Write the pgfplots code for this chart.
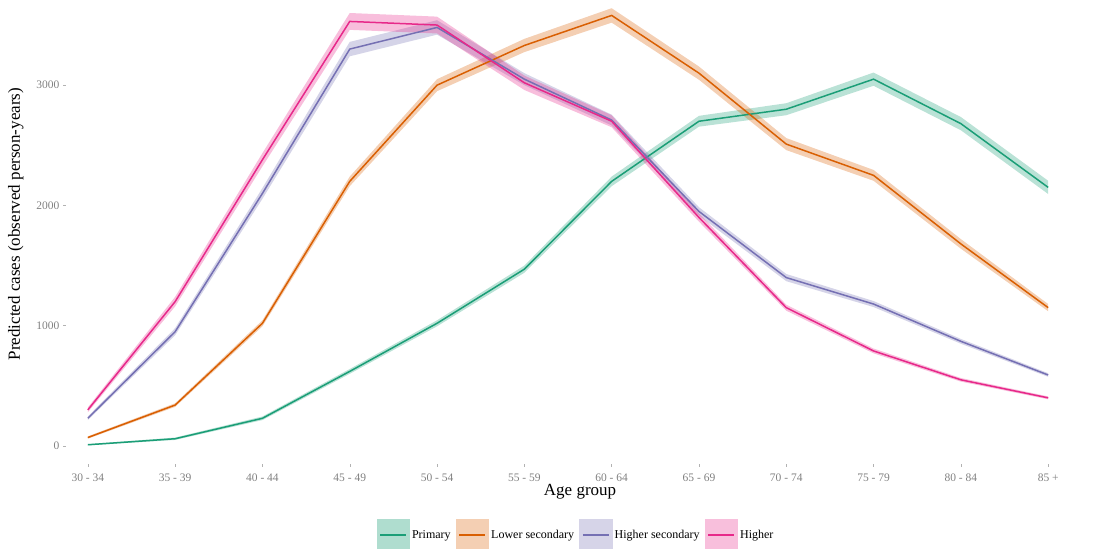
\documentclass[border=0pt]{standalone}
\usepackage{fontspec}
\setmainfont{Liberation Serif}
\usepackage{pgfplots}
\pgfplotsset{compat=1.18}
\usepackage{pgfplotstable}
\usepgfplotslibrary{fillbetween}
\definecolor{cP}{HTML}{1B9E77}
\definecolor{cL}{HTML}{D95F02}
\definecolor{cS}{HTML}{7570B3}
\definecolor{cH}{HTML}{E7298A}
\pgfplotstableread{
x y e
0 10 5
1 60 10
2 230 15
3 620 20
4 1020 25
5 1470 30
6 2200 40
7 2700 45
8 2800 50
9 3050 55
10 2680 55
11 2150 55
}\prim
\pgfplotstableread{
x y e
0 70 10
1 340 15
2 1020 25
3 2200 40
4 3000 50
5 3330 55
6 3580 60
7 3100 55
8 2510 50
9 2250 45
10 1680 40
11 1150 30
}\lows
\pgfplotstableread{
x y e
0 230 15
1 950 30
2 2100 45
3 3300 60
4 3480 60
5 3050 50
6 2710 45
7 1950 35
8 1400 30
9 1180 25
10 870 20
11 590 15
}\highs
\pgfplotstableread{
x y e
0 300 20
1 1200 40
2 2380 55
3 3530 70
4 3500 70
5 3020 60
6 2700 50
7 1900 35
8 1150 25
9 790 20
10 550 15
11 400 12
}\high
\begin{document}
\begin{tikzpicture}
\begin{axis}[
  at={(66pt,85pt)}, anchor=south west,
  scale only axis, width=1004pt, height=457pt,
  xmin=-0.25, xmax=11.25, ymin=-150, ymax=3650,
  axis lines*=left, axis line style={draw=none},
  tick align=outside, major tick length=3pt,
  tick style={gray!60, thin},
  xtick={0,...,11},
  xticklabels={30 - 34,35 - 39,40 - 44,45 - 49,50 - 54,55 - 59,60 - 64,65 - 69,70 - 74,75 - 79,80 - 84,85 +},
  ytick={0,1000,2000,3000},
  /pgf/number format/1000 sep={},
  /pgf/number format/assume math mode=true,
  ticklabel style={font=\fontsize{11.5}{12}\selectfont, text=gray},
  xticklabel style={yshift=-3pt},
  xlabel={Age group},
  xlabel style={font=\fontsize{17}{19}\selectfont, at={(axis description cs:0.512,-0.061)}, anchor=center},
  ylabel={Predicted cases (observed person-years)},
  ylabel style={font=\fontsize{17}{19}\selectfont, at={(axis description cs:-0.05,0.525)}, anchor=center},
  legend columns=4,
  legend style={draw=none, font=\fontsize{12}{14}\selectfont, at={(axis description cs:0.508,-0.155)}, anchor=center,
    /tikz/every even column/.append style={column sep=3pt}},
]
% bands
\addplot[name path=pu, draw=none, forget plot] table[x=x, y expr=\thisrow{y}+\thisrow{e}]{\prim};
\addplot[name path=pl, draw=none, forget plot] table[x=x, y expr=\thisrow{y}-\thisrow{e}]{\prim};
\addplot[fill=cP, fill opacity=0.3, draw=none, forget plot] fill between[of=pu and pl];
\addplot[name path=lu, draw=none, forget plot] table[x=x, y expr=\thisrow{y}+\thisrow{e}]{\lows};
\addplot[name path=ll, draw=none, forget plot] table[x=x, y expr=\thisrow{y}-\thisrow{e}]{\lows};
\addplot[fill=cL, fill opacity=0.3, draw=none, forget plot] fill between[of=lu and ll];
\addplot[name path=su, draw=none, forget plot] table[x=x, y expr=\thisrow{y}+\thisrow{e}]{\highs};
\addplot[name path=sl, draw=none, forget plot] table[x=x, y expr=\thisrow{y}-\thisrow{e}]{\highs};
\addplot[fill=cS, fill opacity=0.3, draw=none, forget plot] fill between[of=su and sl];
\addplot[name path=hu, draw=none, forget plot] table[x=x, y expr=\thisrow{y}+\thisrow{e}]{\high};
\addplot[name path=hl, draw=none, forget plot] table[x=x, y expr=\thisrow{y}-\thisrow{e}]{\high};
\addplot[fill=cH, fill opacity=0.3, draw=none, forget plot] fill between[of=hu and hl];
% lines
\addplot[cP, line width=1.5pt, mark=none,
  legend image code/.code={\fill[cP!35] (0pt,-15pt) rectangle (32pt,15pt); \draw[cP, line width=1.5pt] (3pt,0pt) -- (29pt,0pt);}]
  table[x=x,y=y]{\prim};
\addlegendentry{Primary}
\addplot[cL, line width=1.5pt, mark=none,
  legend image code/.code={\fill[cL!30] (0pt,-15pt) rectangle (32pt,15pt); \draw[cL, line width=1.5pt] (3pt,0pt) -- (29pt,0pt);}]
  table[x=x,y=y]{\lows};
\addlegendentry{Lower secondary}
\addplot[cS, line width=1.5pt, mark=none,
  legend image code/.code={\fill[cS!30] (0pt,-15pt) rectangle (32pt,15pt); \draw[cS, line width=1.5pt] (3pt,0pt) -- (29pt,0pt);}]
  table[x=x,y=y]{\highs};
\addlegendentry{Higher secondary}
\addplot[cH, line width=1.5pt, mark=none,
  legend image code/.code={\fill[cH!30] (0pt,-15pt) rectangle (32pt,15pt); \draw[cH, line width=1.5pt] (3pt,0pt) -- (29pt,0pt);}]
  table[x=x,y=y]{\high};
\addlegendentry{Higher}
\end{axis}
\pgfresetboundingbox
\useasboundingbox (0pt,0pt) rectangle (1101pt,549pt);
\end{tikzpicture}
\end{document}
